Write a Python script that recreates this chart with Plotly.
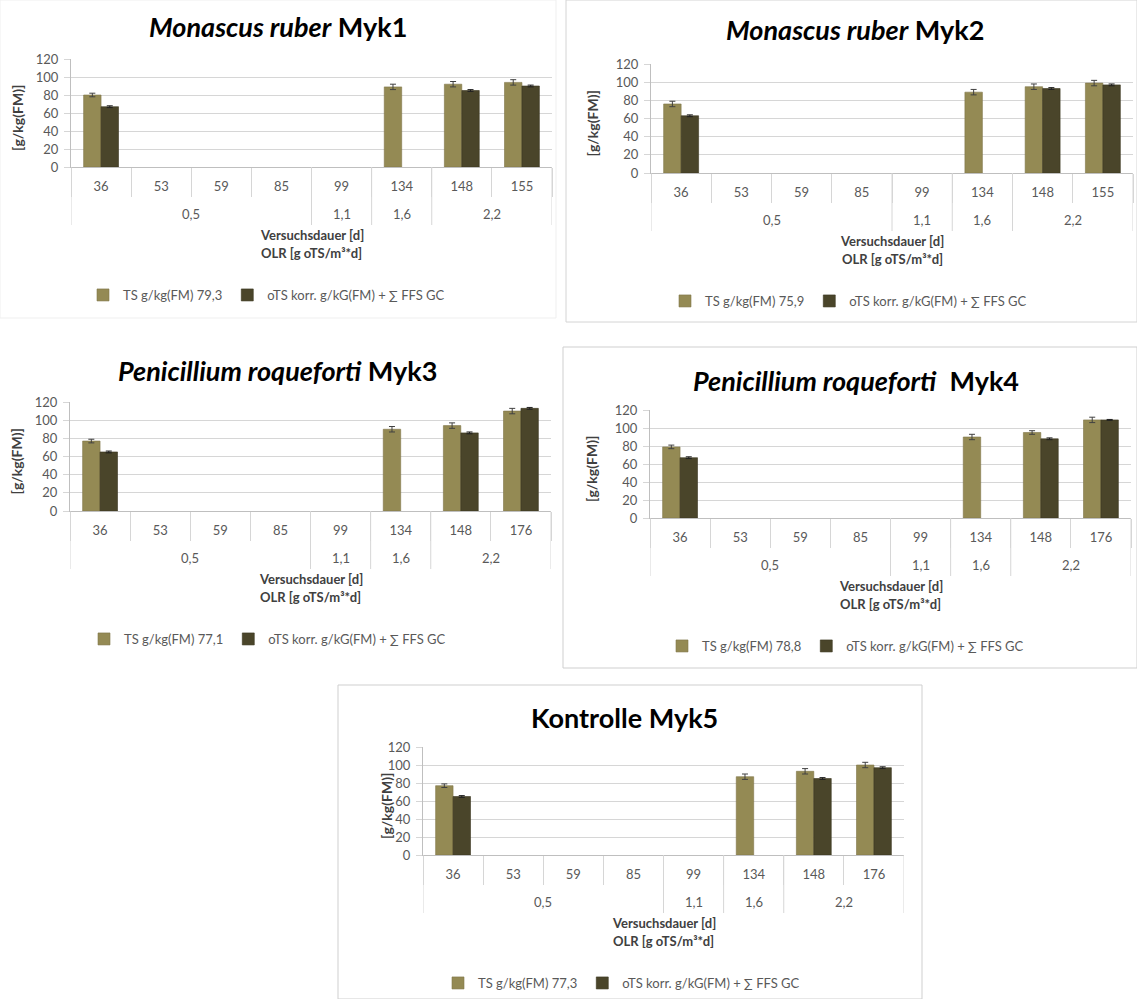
import plotly.graph_objects as go

# ---------------- data ----------------
olr_groups = ["0,5", "0,5", "0,5", "0,5", "1,1", "1,6", "2,2", "2,2"]
days_myk12 = ["36", "53", "59", "85", "99", "134", "148", "155"]
days_myk345 = ["36", "53", "59", "85", "99", "134", "148", "176"]

ts_name_myk1 = "TS g/kg(FM) 79,3"
ts_name_myk2 = "TS g/kg(FM) 75,9"
ts_name_myk3 = "TS g/kg(FM) 77,1"
ts_name_myk4 = "TS g/kg(FM) 78,8"
ts_name_myk5 = "TS g/kg(FM) 77,3"
ots_name = "oTS korr. g/kG(FM) + \u2211 FFS GC"

ts_myk1 = [80, None, None, None, None, 89, 92, 94]
ts_err_myk1 = [2, 0, 0, 0, 0, 3, 3, 3]
ots_myk1 = [67, None, None, None, None, None, 85, 90]
ots_err_myk1 = [1, 0, 0, 0, 0, 0, 1, 1]

ts_myk2 = [76, None, None, None, None, 89, 95, 99]
ts_err_myk2 = [3, 0, 0, 0, 0, 3, 3, 3]
ots_myk2 = [63, None, None, None, None, None, 93, 97]
ots_err_myk2 = [1, 0, 0, 0, 0, 0, 1, 1]

ts_myk3 = [77, None, None, None, None, 90, 94, 110]
ts_err_myk3 = [2, 0, 0, 0, 0, 3, 3, 3]
ots_myk3 = [65, None, None, None, None, None, 86, 113]
ots_err_myk3 = [1, 0, 0, 0, 0, 0, 1, 1]

ts_myk4 = [79, None, None, None, None, 90, 95, 109]
ts_err_myk4 = [2, 0, 0, 0, 0, 3, 2, 3]
ots_myk4 = [67, None, None, None, None, None, 88, 109]
ots_err_myk4 = [1, 0, 0, 0, 0, 0, 1, 0.5]

ts_myk5 = [77, None, None, None, None, 87, 93, 100]
ts_err_myk5 = [2, 0, 0, 0, 0, 3, 3, 3]
ots_myk5 = [65, None, None, None, None, None, 85, 97]
ots_err_myk5 = [1, 0, 0, 0, 0, 0, 1, 1]

titles = [
    "<b><i>Monascus ruber</i> Myk1</b>",
    "<b><i>Monascus ruber</i> Myk2</b>",
    "<b><i>Penicillium roqueforti</i> Myk3</b>",
    "<b><i>Penicillium roqueforti</i>  Myk4</b>",
    "<b>Kontrolle Myk5</b>",
]
y_title = "<b>[g/kg(FM)]</b>"
x_title_1 = "<b>Versuchsdauer [d]</b>"
x_title_2 = "<b>OLR [g oTS/m\u00b3*d]</b>"
y_ticks = [0, 20, 40, 60, 80, 100, 120]

panels_data = [
    (days_myk12, ts_myk1, ts_err_myk1, ots_myk1, ots_err_myk1, ts_name_myk1),
    (days_myk12, ts_myk2, ts_err_myk2, ots_myk2, ots_err_myk2, ts_name_myk2),
    (days_myk345, ts_myk3, ts_err_myk3, ots_myk3, ots_err_myk3, ts_name_myk3),
    (days_myk345, ts_myk4, ts_err_myk4, ots_myk4, ots_err_myk4, ts_name_myk4),
    (days_myk345, ts_myk5, ts_err_myk5, ots_myk5, ots_err_myk5, ts_name_myk5),
]

# ---------------- layout geometry (pixels) ----------------
W, H = 1137, 999
# plot rectangles: left, right, top(120), bottom(0)
geo = [
    (71, 552, 59, 167),
    (651, 1133, 64, 173),
    (70, 551, 402, 511),
    (650, 1131, 410, 518),
    (423, 904, 747, 855),
]
title_x = [278, 855, 277, 856, 624]
title_dy = [-140, -143, -141, -138, -138]
legend_left = [83, 665, 84, 662, 438]
ytitle_x = [17, 592, 16, 592, 386]

TS_COLOR = "#948A54"
OTS_COLOR = "#4A452A"
GRID = "#D6D6D6"
AXIS = "#BFBFBF"
TXT = "#595959"
FONT = "Lato, Carlito, Calibri, sans-serif"


def fx(px):
    return px / W


def fy(py):
    return 1 - py / H


# OLR group boundaries and centres (category index units)
n_cat = len(olr_groups)
group_bounds = [-0.5]
group_centres = []
start = 0
for k in range(1, n_cat + 1):
    if k == n_cat or olr_groups[k] != olr_groups[k - 1]:
        group_centres.append(((start + k - 1) / 2, olr_groups[start]))
        group_bounds.append(k - 0.5)
        start = k

fig = go.Figure()
annotations = []
shapes = []
layout_axes = {}

for i, (days, ts, ts_err, ots, ots_err, ts_name) in enumerate(panels_data):
    n = i + 1
    sfx = "" if n == 1 else str(n)
    xa, ya = "x" + sfx, "y" + sfx
    leg = "legend" + sfx
    fig.add_trace(go.Bar(
        x=days, y=ts, name=ts_name, xaxis=xa, yaxis=ya, legend=leg,
        marker=dict(color=TS_COLOR, line=dict(color="#7F7648", width=0.6)),
        error_y=dict(type="data", array=ts_err, visible=True, color="#404040",
                     thickness=1, width=3),
    ))
    fig.add_trace(go.Bar(
        x=days, y=ots, name=ots_name, xaxis=xa, yaxis=ya, legend=leg,
        marker=dict(color=OTS_COLOR, line=dict(color="#3A3620", width=0.6)),
        error_y=dict(type="data", array=ots_err, visible=True, color="#202020",
                     thickness=1, width=3),
    ))
    x0, x1, yt, yb = geo[i]
    layout_axes["xaxis" + sfx] = dict(
        domain=[fx(x0), fx(x1)], anchor=ya, type="category",
        categoryorder="array", categoryarray=days, range=[-0.5, n_cat - 0.5],
        showline=True, linecolor=AXIS, linewidth=1,
        ticks="outside", tickson="boundaries", ticklen=29, tickcolor=GRID,
        tickwidth=1, ticklabelstandoff=7,
        tickfont=dict(family=FONT, size=13, color=TXT),
        showgrid=False, zeroline=False, fixedrange=True, automargin=False,
    )
    layout_axes["yaxis" + sfx] = dict(
        domain=[fy(yb), fy(yt)], anchor=xa, range=[0, 120],
        tickvals=y_ticks, showgrid=True, gridcolor=GRID, gridwidth=1,
        showline=True, linecolor=AXIS, linewidth=1,
        ticks="outside", ticklen=6, tickcolor=GRID,
        tickfont=dict(family=FONT, size=13, color=TXT),
        ticklabelstandoff=3, zeroline=False, fixedrange=True, automargin=False,
    )
    layout_axes[leg] = dict(
        orientation="h", x=fx(legend_left[i]), y=fy(yb + 128),
        xanchor="left", yanchor="middle",
        font=dict(family=FONT, size=13, color=TXT),
        bgcolor="rgba(0,0,0,0)", itemclick=False, itemdoubleclick=False,
    )
    # OLR row labels and group dividers
    for (cx, lab) in group_centres:
        annotations.append(dict(
            text=lab, xref=xa, yref="paper", x=cx, y=fy(yb + 47),
            xanchor="center", yanchor="middle", showarrow=False,
            font=dict(family=FONT, size=13, color=TXT),
        ))
    for b in group_bounds:
        shapes.append(dict(
            type="line", xref=xa, yref="paper", x0=b, x1=b,
            y0=fy(yb + 58), y1=fy(yb), line=dict(color=GRID, width=1),
        ))
    # chart title
    annotations.append(dict(
        text=titles[i], xref="paper", yref="paper",
        x=fx(title_x[i]), y=fy(yb + title_dy[i]), xanchor="center",
        yanchor="middle", showarrow=False,
        font=dict(family=FONT, size=27, color="#000000"),
    ))
    # x titles
    xc = (x0 + x1) / 2
    annotations.append(dict(
        text=x_title_1, xref="paper", yref="paper", x=fx(xc),
        y=fy(yb + 68), xanchor="center", yanchor="middle", showarrow=False,
        font=dict(family=FONT, size=13, color="#404040"),
    ))
    annotations.append(dict(
        text=x_title_2, xref="paper", yref="paper", x=fx(xc),
        y=fy(yb + 86), xanchor="center", yanchor="middle", showarrow=False,
        font=dict(family=FONT, size=13, color="#404040"),
    ))
    # y title
    annotations.append(dict(
        text=y_title, xref="paper", yref="paper", x=fx(ytitle_x[i]),
        y=fy((yt + yb) / 2 + 5), xanchor="center", yanchor="middle",
        textangle=-90, showarrow=False,
        font=dict(family=FONT, size=14, color="#404040"),
    ))

# chart-area frames
frame_boxes = [
    (0, 0, 556, 318, "#EFEFEF"),
    (566, 0, 1137, 322, "#D4D4D4"),
    (563, 347, 1137, 668, "#CFCFCF"),
    (338, 685, 922, 999, "#CFCFCF"),
]
for (a, b, c, d, col) in frame_boxes:
    shapes.append(dict(type="rect", xref="paper", yref="paper",
                       x0=fx(a), x1=fx(c), y0=fy(d), y1=fy(b),
                       line=dict(color=col, width=1), fillcolor="rgba(0,0,0,0)",
                       layer="below"))

fig.update_layout(
    width=W, height=H,
    margin=dict(l=0, r=0, t=0, b=0, autoexpand=False),
    paper_bgcolor="white", plot_bgcolor="white",
    barmode="group", bargap=0.42, bargroupgap=0,
    font=dict(family=FONT, size=12, color=TXT),
    showlegend=True,
    annotations=annotations,
    shapes=shapes,
    **layout_axes,
)

fig.write_html(
    "out.html",
    config={"displayModeBar": False},
    post_script="document.body.style.margin='0px';document.body.style.overflow='hidden';",
)
